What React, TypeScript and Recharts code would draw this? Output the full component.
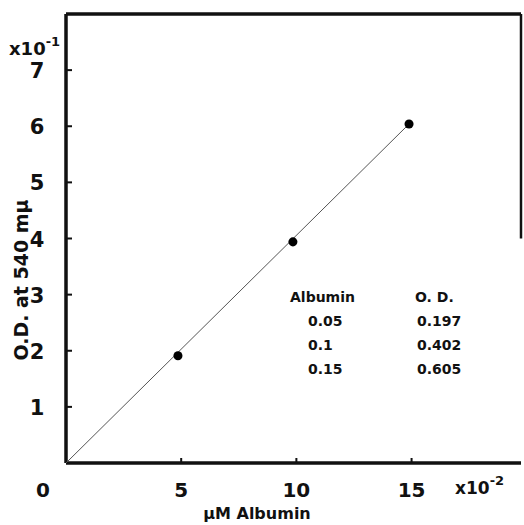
import React from 'react';
import { ScatterChart, Scatter, XAxis, YAxis, ReferenceLine } from 'recharts';

// µM albumin (x10^-2) and O.D. at 540 mµ (x10^-1)
const albuminConc = [4.86, 9.85, 14.89];
const opticalDensity = [1.91, 3.94, 6.04];
const xTicks = [0, 5, 10, 15];
const yTicks = [1, 2, 3, 4, 5, 6, 7];
const tableAlbumin = ['0.05', '0.1', '0.15'];
const tableOD = ['0.197', '0.402', '0.605'];

const points = albuminConc.map((x, i) => ({ x, y: opticalDensity[i] }));
const fitLine = [{ x: 0, y: 0 }, points[points.length - 1]];

const FONT = '"DejaVu Sans", Verdana, sans-serif';
const X_MAX = 19.75;
const Y_MAX = 8;

const XTick = (props: any) => {
  const { x, y, payload } = props;
  const v = payload.value;
  if (v === 0) {
    return (
      <text x={x - 23} y={y + 34} textAnchor="middle" fontFamily={FONT} fontWeight="bold" fontSize={20} fill="#111">
        0
      </text>
    );
  }
  return (
    <g>
      <line x1={x} x2={x} y1={y} y2={y - 5} stroke="#111" strokeWidth={2} />
      <text x={x} y={y + 34} textAnchor="middle" fontFamily={FONT} fontWeight="bold" fontSize={20} fill="#111">
        {v}
      </text>
    </g>
  );
};

const YTick = (props: any) => {
  const { x, y, payload } = props;
  return (
    <g>
      <line x1={x} x2={x + 6} y1={y} y2={y} stroke="#111" strokeWidth={2} />
      <text x={x - 29} y={y + 8} textAnchor="middle" fontFamily={FONT} fontWeight="bold" fontSize={21} fill="#111">
        {payload.value}
      </text>
    </g>
  );
};

const noDot = () => <g />;

export default function App() {
  const txt = { fontFamily: FONT, fontWeight: 'bold' as const, fill: '#111' };
  return (
    <div style={{ position: 'absolute', left: 0, top: 0, width: 524, height: 525, background: '#fff' }}>
      <ScatterChart width={524} height={525} margin={{ top: 14, right: 3, left: 0, bottom: 0 }}>
        <XAxis
          type="number"
          dataKey="x"
          domain={[0, X_MAX]}
          ticks={xTicks}
          height={62}
          tickSize={0}
          tickMargin={0}
          tickLine={false}
          axisLine={{ stroke: '#111', strokeWidth: 3.5 }}
          tick={XTick}
          allowDataOverflow
        />
        <YAxis
          type="number"
          dataKey="y"
          domain={[0, Y_MAX]}
          ticks={yTicks}
          width={66}
          tickSize={0}
          tickMargin={0}
          tickLine={false}
          axisLine={{ stroke: '#111', strokeWidth: 3.5 }}
          tick={YTick}
          allowDataOverflow
        />
        <ReferenceLine y={Y_MAX} stroke="#111" strokeWidth={3.5} />
        <ReferenceLine
          segment={[
            { x: X_MAX, y: 4 },
            { x: X_MAX, y: Y_MAX },
          ]}
          stroke="#111"
          strokeWidth={2.5}
        />
        <Scatter data={fitLine} line={{ stroke: '#555', strokeWidth: 1 }} shape={noDot} isAnimationActive={false} />
        <Scatter data={points} fill="#000" shape="circle" isAnimationActive={false} />
      </ScatterChart>
      <svg width={524} height={525} style={{ position: 'absolute', left: 0, top: 0, pointerEvents: 'none' }}>
        <text x={9} y={55} fontSize={18} {...txt}>
          x10<tspan dy={-9} fontSize={13}>-1</tspan>
        </text>
        <text x={455} y={494} fontSize={17} {...txt}>
          x10<tspan dy={-9} fontSize={13}>-2</tspan>
        </text>
        <text transform="translate(28,280) rotate(-90)" textAnchor="middle" fontSize={19} {...txt}>
          O.D. at 540 mµ
        </text>
        <text x={257} y={519} textAnchor="middle" fontSize={16} {...txt}>
          µM Albumin
        </text>
        <text x={290} y={302} fontSize={14} {...txt}>Albumin</text>
        <text x={415} y={302} fontSize={14} {...txt}>O. D.</text>
        {tableAlbumin.map((a, i) => (
          <text key={a} x={308} y={326 + i * 24} fontSize={14} {...txt}>{a}</text>
        ))}
        {tableOD.map((d, i) => (
          <text key={d} x={417} y={326 + i * 24} fontSize={14} {...txt}>{d}</text>
        ))}
      </svg>
    </div>
  );
}
